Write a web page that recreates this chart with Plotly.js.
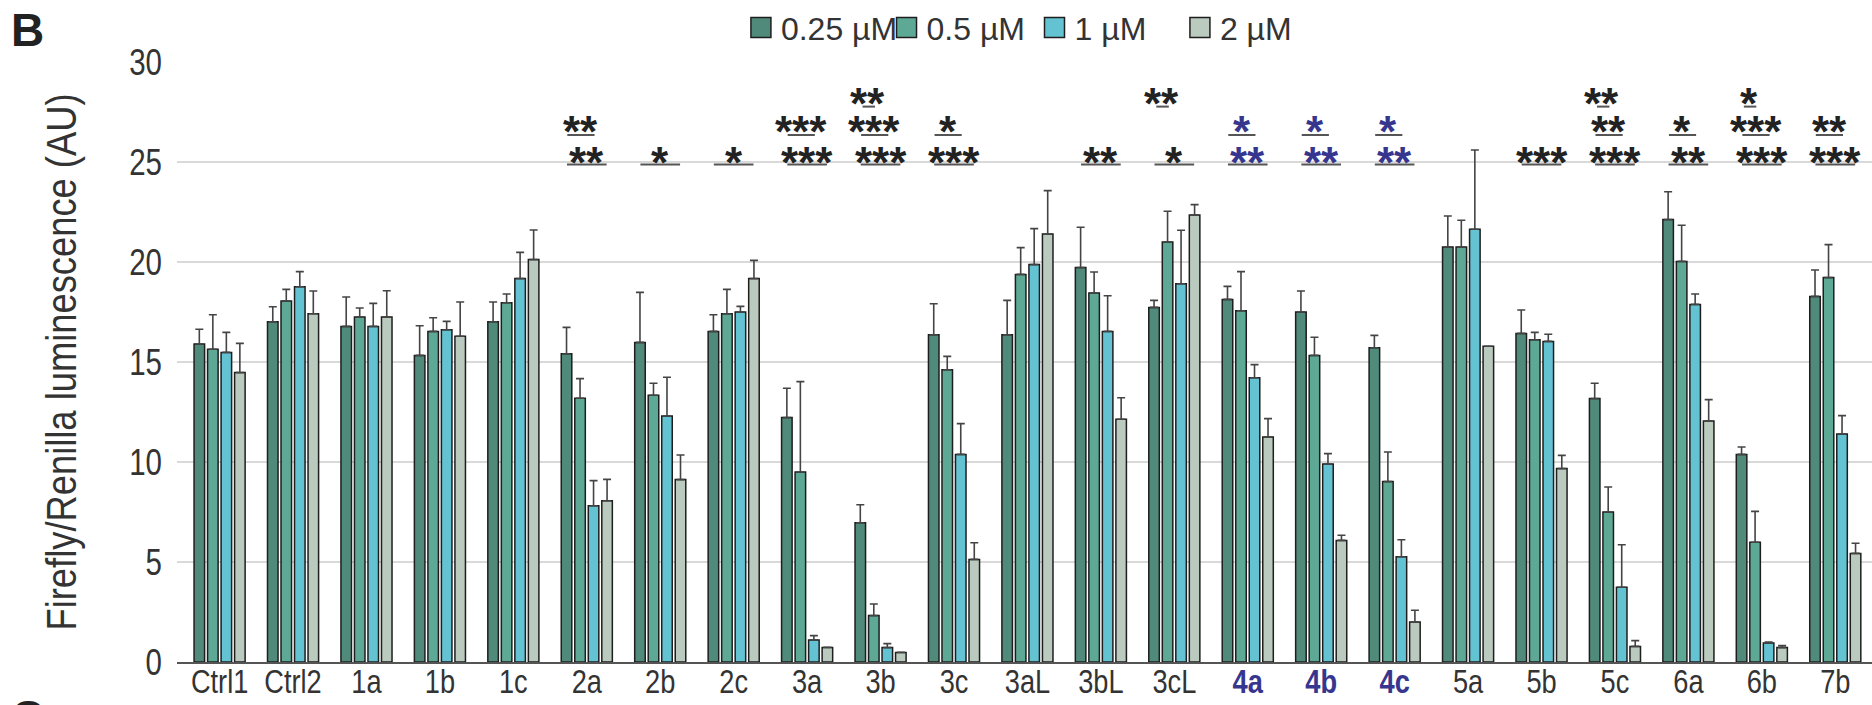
<!DOCTYPE html>
<html>
<head>
<meta charset="utf-8">
<script src="https://cdn.plot.ly/plotly-3.0.1.min.js"></script>
<style>
  html, body { margin: 0; padding: 0; background: #ffffff; }
  #chart { width: 1872px; height: 705px; }
</style>
</head>
<body>
<div id="chart"></div>
<script>
// ---------------- DATA ----------------
const categories = ['Ctrl1','Ctrl2','1a','1b','1c','2a','2b','2c','3a','3b','3c','3aL','3bL','3cL','4a','4b','4c','5a','5b','5c','6a','6b','7b'];
const seriesNames = ['0.25 µM', '0.5 µM', '1 µM', '2 µM'];

const val025 = [15.90,17.01,16.78,15.33,17.01,15.41,15.98,16.53,12.22,6.96,16.36,16.36,19.72,17.73,18.13,17.50,15.71,20.75,16.43,13.17,22.12,10.38,18.28];
const val05  = [15.64,18.05,17.25,16.53,17.96,13.19,13.34,17.41, 9.50,2.32,14.61,19.38,18.45,21.00,17.56,15.33, 9.02,20.75,16.11, 7.50,20.03, 5.99,19.22];
const val1   = [15.48,18.76,16.78,16.61,19.17, 7.81,12.30,17.50, 1.10,0.72,10.38,19.87,16.53,18.91,14.21, 9.90, 5.26,21.64,16.03, 3.74,17.88, 0.95,11.40];
const val2   = [14.47,17.41,17.25,16.29,20.12, 8.06, 9.12,19.17, 0.73,0.48, 5.13,21.40,12.14,22.35,11.25, 6.08, 2.00,15.79, 9.67, 0.78,12.05, 0.72, 5.43];

const err025 = [0.74,0.75,1.47,1.48,0.99,1.32,2.50,0.83,1.47,0.90,1.55,1.72,2.02,0.35,0.65,1.05,0.62,1.55,1.17,0.77,1.39,0.37,1.32];
const err05  = [1.72,0.58,0.45,0.68,0.44,0.98,0.60,1.22,4.52,0.58,0.67,1.34,1.05,1.54,1.96,0.91,1.48,1.34,0.37,1.25,1.81,1.54,1.65];
const err1   = [1.00,0.76,1.15,0.42,1.31,1.26,1.94,0.28,0.22,0.20,1.54,1.80,1.78,2.68,0.66,0.52,0.85,3.96,0.36,2.12,0.52,0.05,0.92];
const err2   = [1.46,1.14,1.31,1.71,1.48,1.07,1.23,0.91,0.00,0.00,0.83,2.17,1.07,0.52,0.92,0.26,0.59,0.00,0.66,0.29,1.07,0.10,0.51];

// significance marks, three stacked rows (lowest row first)
const sigRow1 = ['','','','','','**','*','*','***','***','***','','**','*','**','**','**','','***','***','**','***','***'];
const sigRow2 = ['','','','','','**','','','***','***','*','','','','*','*','*','','','**','*','***','**'];
const sigRow3 = ['','','','','','','','','','**','','','','**','','','','','','**','','*',''];
const highlightedCats = ['4a','4b','4c'];

const yTickVals = [0,5,10,15,20,25,30];
const yTitle = 'Firefly/Renilla luminescence (AU)';
const panelLetter = 'B';
const nextPanelLetter = 'C';

// ---------------- STYLE ----------------
const barColors = ['#508a7a','#5ea896','#64c3d2','#bacabe'];
const blue = '#37368f';
const sans = "'Liberation Sans', Arial, sans-serif";
const legendIds = ['legend2', 'legend3', 'legend4', 'legend5'];
const legendX = [0.3327, 0.4186, 0.5059, 0.5917];

const values = [val025, val05, val1, val2];
const errors = [err025, err05, err1, err2];

const traces = values.map((v, k) => ({
  type: 'bar',
  name: seriesNames[k],
  legend: legendIds[k],
  x: categories,
  y: v,
  marker: { color: barColors[k], line: { color: '#1e1e1e', width: 1.5 } },
  error_y: {
    type: 'data', symmetric: false,
    array: errors[k],
    arrayminus: errors[k].map(() => 0),
    color: '#444444', thickness: 1.6, width: 4
  },
  hoverinfo: 'x+y+name'
}));

const tickText = categories.map(c =>
  highlightedCats.includes(c) ? '<span style="color:' + blue + '"><b>' + c + '</b></span>' : c);

// significance annotations + underlines
const rows = [
  { marks: sigRow1, textY: 25.5, lineY: 24.88, half: 0.27, dx: 0.0, ldx: 0.0 },
  { marks: sigRow2, textY: 27.05, lineY: 26.35, half: 0.185, dx: -0.085, ldx: -0.08 },
  { marks: sigRow3, textY: 28.45, lineY: 27.77, half: 0.085, dx: -0.18, ldx: -0.16 }
];
const annotations = [];
const shapes = [];
rows.forEach(r => {
  r.marks.forEach((m, i) => {
    if (!m) return;
    const col = highlightedCats.includes(categories[i]) ? blue : '#222222';
    annotations.push({
      x: i + r.dx, y: r.textY, xref: 'x', yref: 'y',
      text: '<b>' + m + '</b>', showarrow: false,
      xanchor: 'center', yanchor: 'middle', yshift: -10,
      font: { family: sans, size: 44, color: col }
    });
    shapes.push({
      type: 'line', xref: 'x', yref: 'y',
      x0: i + r.ldx - r.half, x1: i + r.ldx + r.half, y0: r.lineY, y1: r.lineY,
      line: { color: '#555555', width: 2 }
    });
  });
});

annotations.push({
  xref: 'paper', yref: 'paper', x: -0.099, y: 1.1, xanchor: 'left', yanchor: 'top',
  text: '<b>' + panelLetter + '</b>', showarrow: false,
  font: { family: sans, size: 46, color: '#222222' }
});
annotations.push({
  xref: 'paper', yref: 'paper', x: -0.099, y: -0.045, xanchor: 'left', yanchor: 'top',
  text: '<b>' + nextPanelLetter + '</b>', showarrow: false,
  font: { family: sans, size: 46, color: '#222222' }
});

const layout = {
  width: 1872, height: 705,
  margin: { l: 177, r: 0, t: 62, b: 43, pad: 0 },
  paper_bgcolor: '#ffffff', plot_bgcolor: '#ffffff',
  barmode: 'group', bargap: 0.264, bargroupgap: 0.22,
  showlegend: true,
  xaxis: {
    type: 'category', range: [-0.58, 22.5], fixedrange: true,
    tickmode: 'array', tickvals: categories, ticktext: tickText,
    tickangle: 0, automargin: false,
    showline: true, linecolor: '#555555', linewidth: 2,
    ticks: '', showgrid: false, zeroline: false,
    tickfont: { family: sans, size: 34, color: '#333333' },
    ticklabelstandoff: 0
  },
  yaxis: {
    range: [0, 30], fixedrange: true, automargin: false,
    tickmode: 'array', tickvals: yTickVals,
    showline: false, zeroline: false, ticks: '',
    showgrid: true, gridcolor: '#d9d9d9', gridwidth: 1.5,
    tickfont: { family: sans, size: 36, color: '#333333' },
    ticklabelstandoff: 14,
    title: { text: yTitle, standoff: 32, font: { family: sans, size: 42, color: '#333333' } }
  },
  annotations: annotations,
  shapes: shapes
};
legendIds.forEach((id, k) => {
  layout[id] = {
    orientation: 'h', x: legendX[k], y: 1.057, xanchor: 'left', yanchor: 'middle',
    font: { family: sans, size: 32, color: '#333333' },
    bgcolor: 'rgba(0,0,0,0)', borderwidth: 0
  };
});

// narrow the text horizontally (the reference uses a condensed face); idempotent
function squeeze(root, selector, f) {
  root.querySelectorAll(selector).forEach(el => {
    if (el.getAttribute('textLength')) return;
    const w = el.getComputedTextLength ? el.getComputedTextLength() : 0;
    if (w > 0) {
      el.setAttribute('textLength', (w * f).toFixed(1));
      el.setAttribute('lengthAdjust', 'spacingAndGlyphs');
    }
  });
}

function polish() {
  const gd = document.getElementById('chart');
  gd.querySelectorAll('.legendpoints path').forEach(p => {
    const d = p.getAttribute('d') || '';
    if (d.indexOf('M6,6') === 0) p.setAttribute('d', 'M10,10H-10V-10H10Z');
  });
  squeeze(gd, '.xtick text', 0.8);
  squeeze(gd, '.ytick text', 0.82);
  squeeze(gd, '.legendtext', 0.76);
  squeeze(gd, '.ytitle', 0.865);
  // pull the category labels up against the axis, as in the reference
  gd.querySelectorAll('.xtick text').forEach(el => {
    const t = el.getAttribute('transform') || '';
    if (t.indexOf('translate(0,-12)') !== 0) el.setAttribute('transform', 'translate(0,-12) ' + t);
  });
}

Plotly.newPlot('chart', traces, layout, { displayModeBar: false, staticPlot: true }).then(gd => {
  polish();
  gd.on('plotly_afterplot', polish);
  requestAnimationFrame(polish);
  setTimeout(polish, 30);
  setTimeout(polish, 200);
  setTimeout(polish, 600);
});
</script>
</body>
</html>
